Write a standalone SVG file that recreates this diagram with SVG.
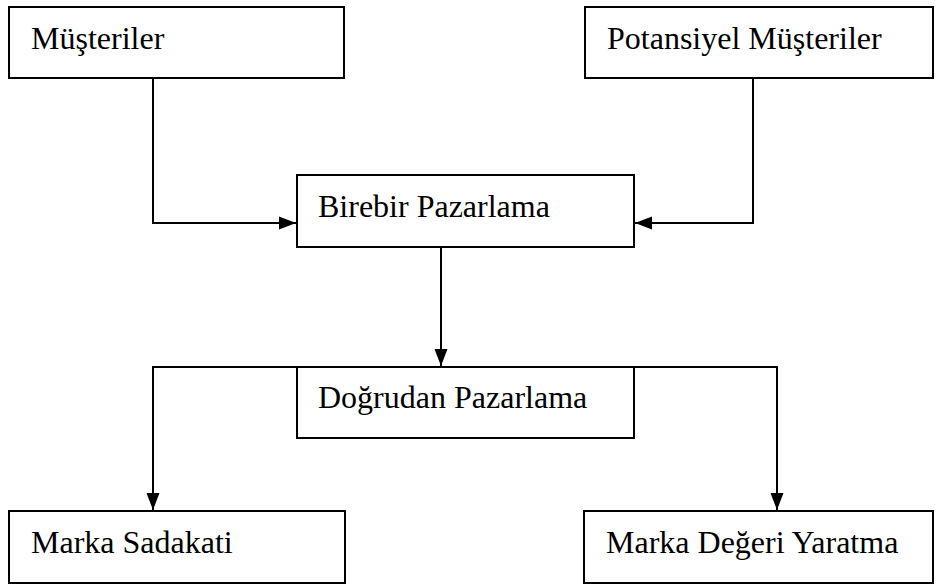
<svg xmlns="http://www.w3.org/2000/svg" width="942" height="586" viewBox="0 0 942 586">
<defs>
<style>
.box{fill:#fff;stroke:#000;stroke-width:2}
.lbl{font-family:'Liberation Serif','DejaVu Serif',serif;font-size:32px;fill:#000}
.con{fill:none;stroke:#000;stroke-width:2}
</style>
<marker id="ah" markerUnits="userSpaceOnUse" markerWidth="18" markerHeight="14" refX="17" refY="7" orient="auto">
<path d="M0,0.5 L17,7 L0,13.5 Z" fill="#000"/>
</marker>
</defs>
<rect width="942" height="586" fill="#fff"/>
<g id="connectors">
<path class="con" d="M153 78 V223 H296" marker-end="url(#ah)"/>
<path class="con" d="M753 78 V223 H635" marker-end="url(#ah)"/>
<path class="con" d="M441 247 V366" marker-end="url(#ah)"/>
<path class="con" d="M441 367 H153 V510" marker-end="url(#ah)"/>
<path class="con" d="M441 367 H777 V510" marker-end="url(#ah)"/>
</g>
<g id="musteriler">
<rect class="box" x="9" y="7" width="335" height="71"/>
<text class="lbl" x="31" y="49">Müşteriler</text>
</g>
<g id="potansiyel">
<rect class="box" x="585" y="7" width="348" height="71"/>
<text class="lbl" x="607" y="49">Potansiyel Müşteriler</text>
</g>
<g id="birebir">
<rect class="box" x="297" y="175" width="337" height="72"/>
<text class="lbl" x="318" y="217">Birebir Pazarlama</text>
</g>
<g id="dogrudan">
<rect class="box" x="297" y="367" width="337" height="71"/>
<text class="lbl" x="318" y="408">Doğrudan Pazarlama</text>
</g>
<g id="sadakat">
<rect class="box" x="9" y="511" width="336" height="72"/>
<text class="lbl" x="31" y="553">Marka Sadakati</text>
</g>
<g id="deger">
<rect class="box" x="584" y="511" width="349" height="72"/>
<text class="lbl" x="606" y="553">Marka Değeri Yaratma</text>
</g>
</svg>
